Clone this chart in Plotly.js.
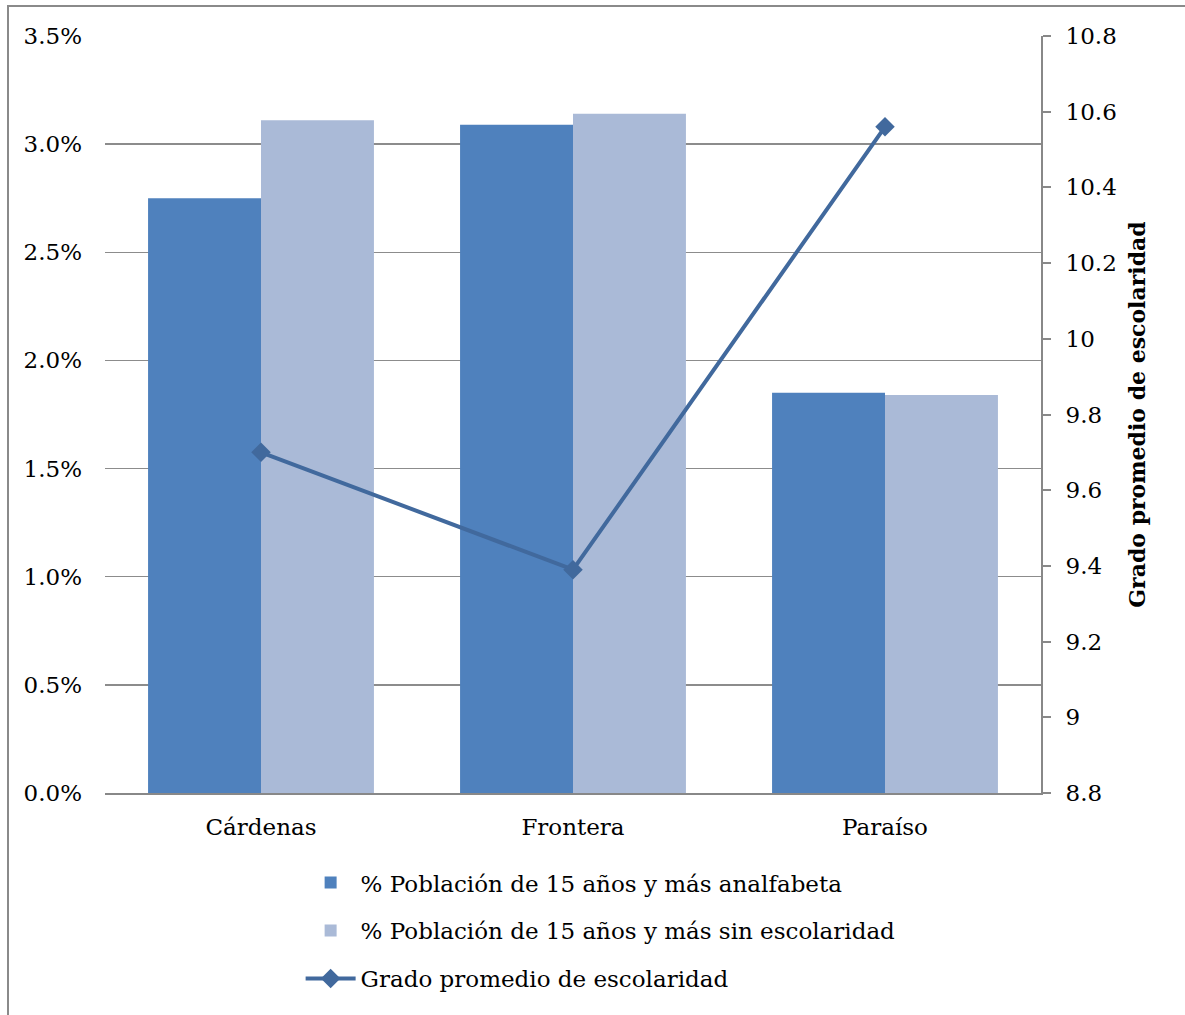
<!DOCTYPE html>
<html>
<head>
<meta charset="utf-8">
<script src="https://cdn.plot.ly/plotly-3.0.1.min.js"></script>
<style>
  html, body { margin: 0; padding: 0; background: #fff; }
  #wrap { position: relative; width: 1185px; height: 1015px; }
  #chart { position: absolute; left: 0; top: 0; width: 1185px; height: 1015px; }
  #frame { position: absolute; left: 7px; top: 5px; width: 1178px; height: 1010px;
           border-left: 2px solid #8a8a8a; border-top: 2px solid #8a8a8a; pointer-events: none; }
</style>
</head>
<body>
<div id="wrap">
  <div id="chart"></div>
  <div id="frame"></div>
</div>
<script>
const categories = ["Cárdenas", "Frontera", "Paraíso"];
const analfabeta = [0.0275, 0.0309, 0.0185];
const sinEscolaridad = [0.0311, 0.0314, 0.0184];
const gradoPromedio = [9.70, 9.39, 10.56];
const seriesNames = [
  "% Población de 15 años y más analfabeta",
  "% Población de 15 años y más sin escolaridad",
  "Grado promedio de escolaridad"
];
const rightTitle = "Grado promedio de escolaridad";

const FONT = "DejaVu Serif, Liberation Serif, serif";

const traces = [
  {
    type: "bar", name: seriesNames[0], x: categories, y: analfabeta,
    marker: { color: "#4F81BD" }, legendgroup: "a", yaxis: "y"
  },
  {
    type: "bar", name: seriesNames[1], x: categories, y: sinEscolaridad,
    marker: { color: "#AABAD7" }, legendgroup: "b", yaxis: "y"
  },
  {
    type: "scatter", mode: "lines+markers", name: seriesNames[2],
    x: categories, y: gradoPromedio, yaxis: "y2", legendgroup: "c",
    line: { color: "#41699D", width: 4 },
    marker: { symbol: "diamond", size: 15, color: "#41699D" }
  }
];

const layout = {
  width: 1185, height: 1015,
  margin: { l: 105, r: 144, t: 36, b: 222 },
  paper_bgcolor: "#ffffff", plot_bgcolor: "#ffffff",
  font: { family: FONT, size: 23, color: "#000000" },
  barmode: "group", bargap: 0.276, bargroupgap: 0,
  showlegend: true,
  legend: {
    orientation: "v", x: 0.209, xanchor: "left", y: -0.09, yanchor: "top",
    font: { family: FONT, size: 23, color: "#000000" },
    tracegroupgap: 15, itemwidth: 50, traceorder: "grouped",
    bgcolor: "rgba(0,0,0,0)"
  },
  xaxis: {
    type: "category",
    showline: true, linecolor: "#888888", linewidth: 2,
    ticks: "", showgrid: false, zeroline: false,
    tickfont: { family: FONT, size: 23, color: "#000000" },
    ticklabelstandoff: 12
  },
  yaxis: {
    range: [0, 0.035], dtick: 0.005, tick0: 0, tickformat: ".1%",
    showgrid: true, gridcolor: "#8c8c8c", gridwidth: 1.3,
    zeroline: false, showline: false, ticks: "",
    tickfont: { family: FONT, size: 23, color: "#000000" },
    ticklabelstandoff: 22
  },
  yaxis2: {
    overlaying: "y", side: "right",
    range: [8.8, 10.8], dtick: 0.2, tick0: 8.8,
    showgrid: false, zeroline: false,
    showline: true, linecolor: "#888888", linewidth: 2,
    ticks: "outside", ticklen: 8, tickcolor: "#888888", tickwidth: 2,
    tickfont: { family: FONT, size: 23, color: "#000000" },
    ticklabelstandoff: 10,
    title: { text: "<b>" + rightTitle + "</b>", font: { family: FONT, size: 22, color: "#000000" }, standoff: 14 }
  }
};

Plotly.newPlot("chart", traces, layout, { displayModeBar: false, staticPlot: true });
</script>
</body>
</html>
